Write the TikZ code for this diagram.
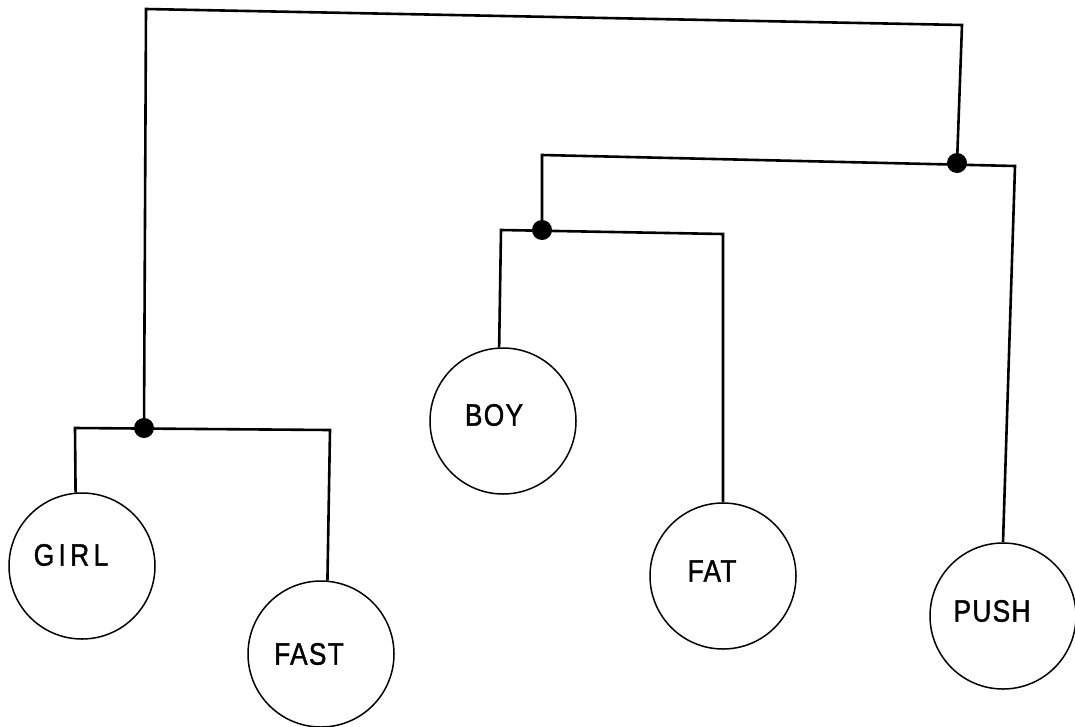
\documentclass[tikz,border=0pt]{standalone}
\usepackage{fontspec}
\setmainfont{Liberation Sans}
\newfontfamily\handfont[FakeStretch=0.85,FakeBold=1.2,LetterSpace=4]{Liberation Sans}
\begin{document}
\begin{tikzpicture}[x=1pt,y=-1pt,
  leaf/.style={circle,draw,line width=1.5pt,minimum size=146pt,inner sep=0pt},
  word/.style={font=\handfont\fontsize{31}{35}\selectfont,inner sep=0pt},
  wire/.style={line width=2.6pt,line join=miter},
  junction/.style={circle,fill,minimum size=20pt,inner sep=0pt}]
\useasboundingbox (0,0) rectangle (1075,726);
% leaves
\node[leaf] (girl) at (82,566) {};
\node[leaf] (fast) at (321,654) {};
\node[leaf] (boy)  at (503,421) {};
\node[leaf] (fat)  at (723,576) {};
\node[leaf] (push) at (1003,616) {};
\node[word] (tgirl) at (71,555) {\addfontfeature{LetterSpace=14}GIRL};
\node[word] (tfast) at (309,654) {FAST};
\node[word] (tboy)  at (494,415) {BOY};
\node[word] (tfat)  at (712,571) {FAT};
\node[word] (tpush) at (992,611) {PUSH};
% junctions
\node[junction] (j1) at (144,428) {};
\node[junction] (j2) at (542,230) {};
\node[junction] (j3) at (957,163) {};
% connectors
\draw[wire] (girl.95) -- (75,428) -- (330,430) -- (fast.85);
\draw[wire] (boy.93) -- (501,230) -- (723,234) -- (fat.north);
\draw[wire] (j2.center) -- (542,155) -- (1015,166) -- (push.north);
\draw[wire] (j1.center) -- (146,9) -- (962,25) -- (j3.center);
\end{tikzpicture}
\end{document}
